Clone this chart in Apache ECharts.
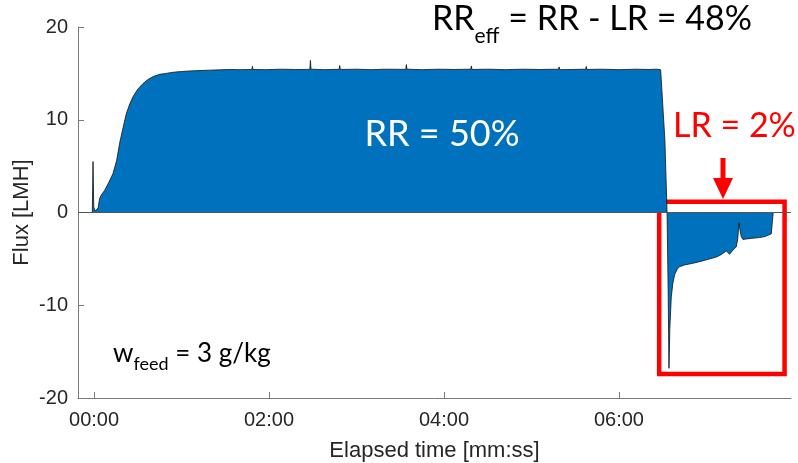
<!DOCTYPE html>
<html>
<head>
<meta charset="utf-8">
<script src="https://cdn.jsdelivr.net/npm/echarts@6/dist/echarts.min.js"></script>
<style>
  html, body { margin: 0; padding: 0; background: #fff; }
  #chart { width: 798px; height: 463px; }
</style>
</head>
<body>
<div id="chart"></div>
<script>
// elapsed time in seconds, flux in LMH
const fwdTime = [-1.2, -0.7, -0.2, 0.8, 1.8, 2.8, 3.8, 5, 7.3, 10, 13, 15.5, 17.6, 20, 22.2, 24.5, 26.8, 30, 33.6, 37, 40.5, 45, 49.6, 50.8, 51.2, 56, 60, 65.6, 72, 80, 86, 93, 100, 108.2, 108.6, 109, 118, 128, 138, 148, 148.4, 148.8, 158, 168.1, 168.5, 168.9, 180, 190, 200, 213.8, 214.2, 214.6, 225, 236, 247, 258.4, 258.8, 259.2, 270, 282, 294, 306, 318.6, 319, 319.4, 328, 337.2, 337.6, 338, 348, 360, 372, 380, 386, 388.6, 391.5, 393];
const fwdFlux = [0, 5.5, 0.6, 0.15, 0.05, 0.5, 1.5, 1.9, 2.4, 3.2, 4.2, 5.6, 7.5, 9.2, 10.7, 11.7, 12.5, 13.3, 13.9, 14.35, 14.65, 14.9, 15.0, 15.2, 15.05, 15.15, 15.2, 15.26, 15.3, 15.35, 15.38, 15.42, 15.4, 15.42, 15.75, 15.42, 15.4, 15.45, 15.42, 15.43, 16.4, 15.45, 15.4, 15.44, 15.85, 15.42, 15.45, 15.4, 15.45, 15.43, 15.95, 15.45, 15.4, 15.45, 15.42, 15.45, 15.8, 15.42, 15.45, 15.4, 15.45, 15.42, 15.45, 15.7, 15.4, 15.42, 15.45, 15.75, 15.42, 15.45, 15.4, 15.45, 15.42, 15.45, 15.4, 7.8, 0];

const revTime = [393.2, 393.8, 394.3, 394.9, 395.9, 397, 398.2, 400, 401.6, 405, 410, 415.3, 420, 426.8, 430, 433.6, 435.9, 438.2, 440.5, 441.5, 442.3, 443.1, 443.9, 445, 450, 456.4, 460, 464.5, 465.2, 465.8];
const revFlux = [0, -9, -16.8, -12.5, -9.1, -7.6, -6.7, -6.1, -5.85, -5.65, -5.5, -5.3, -5.1, -4.8, -4.55, -4.15, -4.5, -4.05, -3.7, -2.8, -1.1, -2.0, -2.6, -2.9, -2.8, -2.7, -2.6, -2.3, -1.0, 0];

const xTicks = [0, 120, 240, 360];
const yTicks = [-20, -10, 0, 10, 20];

const points = fwdTime.map((t, i) => [t, fwdFlux[i]])
  .concat(revTime.map((t, i) => [t, revFlux[i]]));

const axisColor = '#262626';
const annoFont = 'Lato';

function mmss(v) {
  const m = Math.floor(v / 60);
  const s = Math.round(v - m * 60);
  return String(m).padStart(2, '0') + ':' + String(s).padStart(2, '0');
}

const chart = echarts.init(document.getElementById('chart'));

chart.setOption({
  animation: false,
  grid: { left: 78, right: 7, top: 27, bottom: 65, outerBoundsMode: 'none' },
  xAxis: {
    type: 'value',
    min: -11,
    max: 478,
    name: 'Elapsed time [mm:ss]',
    nameLocation: 'middle',
    nameGap: 42,
    nameMoveOverlap: false,
    nameTextStyle: { fontFamily: 'Liberation Sans', fontSize: 22, color: axisColor },
    axisLine: { onZero: false, lineStyle: { color: '#7a7a7a', width: 1 } },
    axisTick: { inside: true, length: 6, customValues: xTicks, lineStyle: { color: '#7a7a7a' } },
    axisLabel: {
      customValues: xTicks,
      formatter: mmss,
      margin: 12,
      fontFamily: 'Liberation Sans', fontSize: 20, color: axisColor
    },
    splitLine: { show: false }
  },
  yAxis: {
    type: 'value',
    min: yTicks[0],
    max: yTicks[yTicks.length - 1],
    interval: 10,
    name: 'Flux [LMH]',
    nameLocation: 'middle',
    nameGap: 45,
    nameMoveOverlap: false,
    nameTextStyle: { fontFamily: 'Liberation Sans', fontSize: 22, color: axisColor },
    axisLine: { show: true, onZero: false, lineStyle: { color: '#7a7a7a', width: 1 } },
    axisTick: { show: true, inside: true, length: 6, lineStyle: { color: '#7a7a7a' } },
    axisLabel: { margin: 10, fontFamily: 'Liberation Sans', fontSize: 20, color: axisColor },
    splitLine: { show: false }
  },
  series: [{
    type: 'line',
    data: points,
    showSymbol: false,
    symbol: 'none',
    color: '#0072BD',
    lineStyle: { color: '#111', width: 0.8 },
    areaStyle: { color: '#0072BD', opacity: 1 },
    markLine: {
      silent: true,
      symbol: 'none',
      label: { show: false },
      lineStyle: { color: '#555', width: 1, type: 'solid' },
      data: [{ yAxis: 0 }]
    },
    markArea: {
      silent: true,
      itemStyle: { color: 'rgba(0,0,0,0)', borderColor: '#ff0000', borderWidth: 4.5 },
      data: [[{ coord: [387.6, 1.17] }, { coord: [473.6, -17.42] }]]
    }
  }],
  graphic: [
    {
      type: 'text', left: 432, top: 2, z: 100,
      style: {
        text: '{m|RR}{s|eff}{m| = RR - LR = 48%}',
        rich: {
          m: { fontFamily: annoFont, fontSize: 34, lineHeight: 38, verticalAlign: 'top', fill: '#000' },
          s: { fontFamily: annoFont, fontSize: 21, lineHeight: 21, padding: [24, 0, 0, 0], verticalAlign: 'top', fill: '#000' }
        }
      }
    },
    {
      type: 'text', left: 113, top: 341, z: 100,
      style: {
        text: '{m|w}{s|feed}{m| = 3 g/kg}',
        rich: {
          m: { fontFamily: annoFont, fontSize: 26, lineHeight: 30, verticalAlign: 'top', fill: '#000' },
          s: { fontFamily: annoFont, fontSize: 18, lineHeight: 18, padding: [14, 0, 0, 0], verticalAlign: 'top', fill: '#000' }
        }
      }
    },
    {
      type: 'text', x: 442, y: 134, z: 100,
      style: { text: 'RR = 50%', fontFamily: annoFont, fontSize: 36, fill: '#fff', align: 'center', verticalAlign: 'middle' }
    },
    {
      type: 'text', x: 673, y: 126, z: 100,
      style: { text: 'LR = 2%', fontFamily: annoFont, fontSize: 34, fill: '#ff0000', align: 'left', verticalAlign: 'middle' }
    },
    // red arrow pointing at the box
    {
      type: 'polygon', z: 100,
      shape: { points: [[720.5, 158], [725.5, 158], [725.5, 178], [733, 178], [723, 199], [713, 178], [720.5, 178]] },
      style: { fill: '#ff0000' }
    }
  ]
});
</script>
</body>
</html>
